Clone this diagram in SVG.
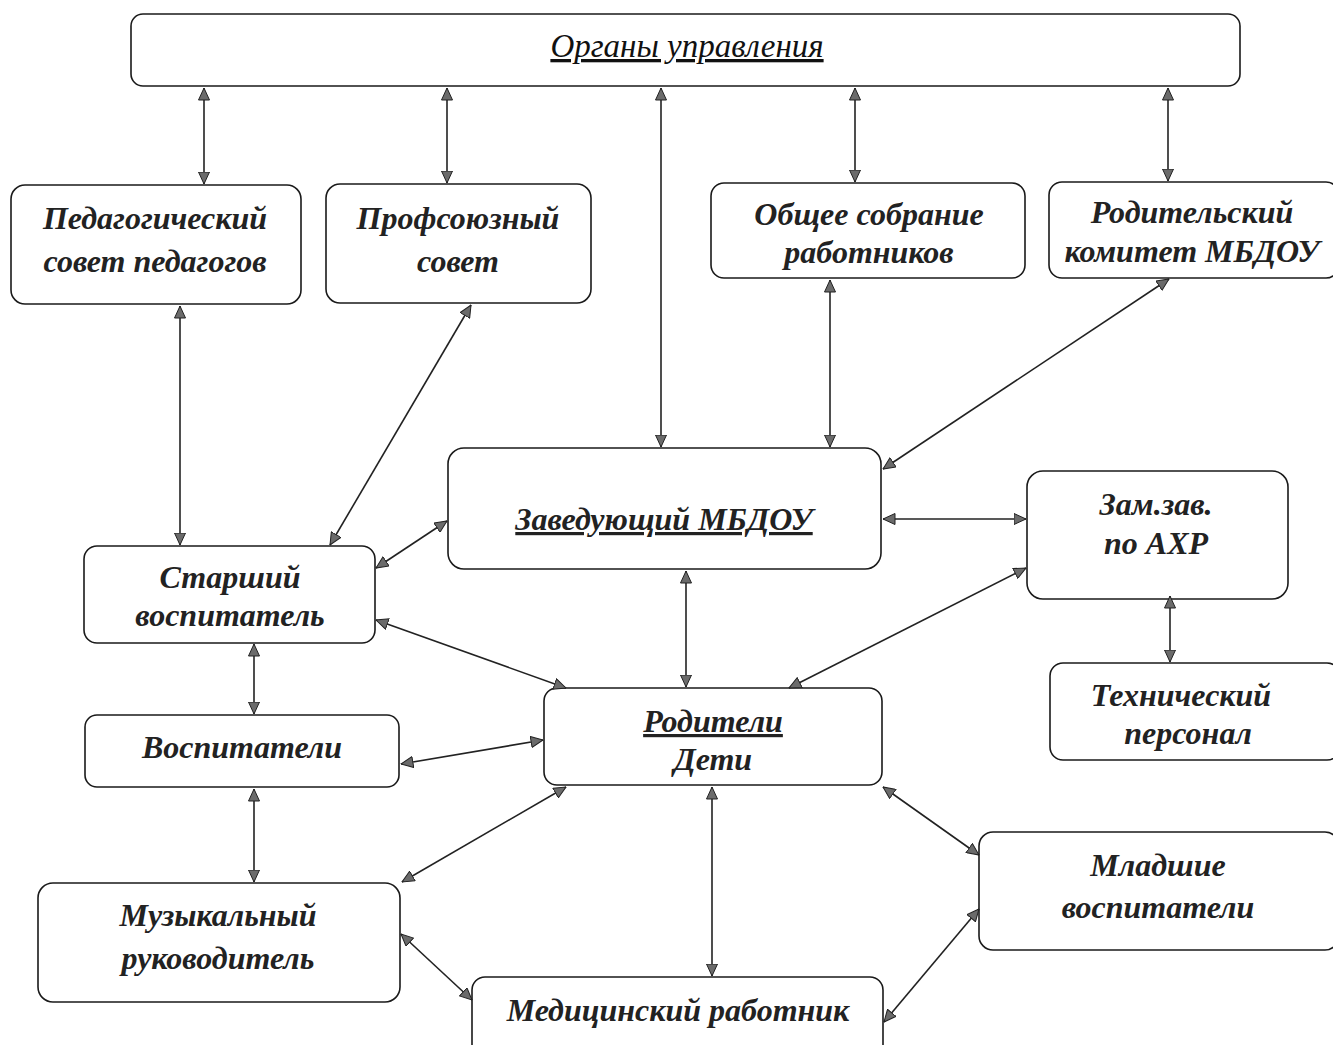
<svg xmlns="http://www.w3.org/2000/svg" width="1333" height="1045" viewBox="0 0 1333 1045">
<style>
.box{fill:#fff;stroke:#1a1a1a;stroke-width:1.6}
.t{font-family:"Liberation Serif","Times New Roman",serif;font-weight:bold;font-style:italic;fill:#222;text-anchor:middle;font-size:32px}
.title{font-family:"Liberation Serif","Times New Roman",serif;font-style:italic;font-weight:normal;fill:#111;text-anchor:middle;font-size:33px}
.u{text-decoration:underline}
.c line{stroke:#222;stroke-width:1.6;marker-start:url(#ah);marker-end:url(#ah)}
</style>
<defs>
<marker id="ah" viewBox="0 0 12 12" refX="12" refY="6" markerUnits="userSpaceOnUse" markerWidth="13" markerHeight="12" orient="auto-start-reverse">
<path d="M0,0.5 L12,6 L0,11.5 z" fill="#6b6b6b" stroke="#222" stroke-width="1"/>
</marker>
</defs>
<rect width="1333" height="1045" fill="#fff"/>
<g id="organy"><rect class="box" x="131" y="14" width="1109" height="72" rx="12"/><text class="title u" x="687" y="57">Органы управления</text></g>
<g id="pedsovet"><rect class="box" x="11" y="185" width="290" height="119" rx="14"/><text class="t" x="155" y="229" font-size="33">Педагогический</text><text class="t" x="155" y="272" font-size="33">совет педагогов</text></g>
<g id="profsovet"><rect class="box" x="326" y="184" width="265" height="119" rx="14"/><text class="t" x="458" y="229" font-size="33">Профсоюзный</text><text class="t" x="458" y="272" font-size="33">совет</text></g>
<g id="obshchee"><rect class="box" x="711" y="183" width="314" height="95" rx="13"/><text class="t" x="869" y="225" font-size="29">Общее собрание</text><text class="t" x="869" y="263" font-size="29">работников</text></g>
<g id="rodkomitet"><rect class="box" x="1049" y="182" width="290" height="96" rx="13"/><text class="t" x="1192" y="223" font-size="27">Родительский</text><text class="t" x="1192" y="262" font-size="27">комитет МБДОУ</text></g>
<g id="zaveduyushchiy"><rect class="box" x="448" y="448" width="433" height="121" rx="16"/><text class="t u" x="664" y="530" font-size="32">Заведующий МБДОУ</text></g>
<g id="zamzav"><rect class="box" x="1027" y="471" width="261" height="128" rx="16"/><text class="t" x="1156" y="515" font-size="32">Зам.зав.</text><text class="t" x="1156" y="554" font-size="32">по АХР</text></g>
<g id="starshiy"><rect class="box" x="84" y="546" width="291" height="97" rx="13"/><text class="t" x="230" y="588" font-size="32">Старший</text><text class="t" x="230" y="626" font-size="32">воспитатель</text></g>
<g id="tekhnicheskiy"><rect class="box" x="1050" y="663" width="290" height="97" rx="13"/><text class="t" x="1181" y="706" font-size="30">Технический</text><text class="t" x="1188" y="744" font-size="30">персонал</text></g>
<g id="vospitateli"><rect class="box" x="85" y="715" width="314" height="72" rx="12"/><text class="t" x="242" y="758" font-size="32">Воспитатели</text></g>
<g id="roditeli"><rect class="box" x="544" y="688" width="338" height="97" rx="13"/><text class="t u" x="713" y="732" font-size="32">Родители</text><text class="t" x="713" y="770" font-size="32">Дети</text></g>
<g id="mladshie"><rect class="box" x="979" y="832" width="360" height="118" rx="14"/><text class="t" x="1158" y="876" font-size="32">Младшие</text><text class="t" x="1158" y="918" font-size="32">воспитатели</text></g>
<g id="muzykalnyy"><rect class="box" x="38" y="883" width="362" height="119" rx="15"/><text class="t" x="218" y="926" font-size="32">Музыкальный</text><text class="t" x="218" y="969" font-size="32">руководитель</text></g>
<g id="meditsinskiy"><rect class="box" x="472" y="977" width="411" height="90" rx="13"/><text class="t" x="678" y="1021" font-size="32">Медицинский работник</text></g>
<g id="connectors" class="c">
<line x1="204" y1="88" x2="204" y2="184"/>
<line x1="447" y1="88" x2="447" y2="183"/>
<line x1="661" y1="88" x2="661" y2="447"/>
<line x1="855" y1="88" x2="855" y2="182"/>
<line x1="1168" y1="88" x2="1168" y2="181"/>
<line x1="180" y1="306" x2="180" y2="545"/>
<line x1="471" y1="305" x2="330" y2="545"/>
<line x1="830" y1="280" x2="830" y2="447"/>
<line x1="1169" y1="279" x2="883" y2="469"/>
<line x1="376" y1="568" x2="447" y2="521"/>
<line x1="883" y1="519" x2="1026" y2="519"/>
<line x1="686" y1="571" x2="686" y2="687"/>
<line x1="376" y1="620" x2="566" y2="688"/>
<line x1="1026" y1="568" x2="789" y2="688"/>
<line x1="1170" y1="596" x2="1170" y2="662"/>
<line x1="254" y1="644" x2="254" y2="714"/>
<line x1="254" y1="789" x2="254" y2="882"/>
<line x1="401" y1="764" x2="543" y2="740"/>
<line x1="566" y1="787" x2="402" y2="882"/>
<line x1="712" y1="787" x2="712" y2="976"/>
<line x1="883" y1="787" x2="979" y2="855"/>
<line x1="401" y1="934" x2="472" y2="1000"/>
<line x1="979" y1="909" x2="884" y2="1022"/>
</g>
</svg>
